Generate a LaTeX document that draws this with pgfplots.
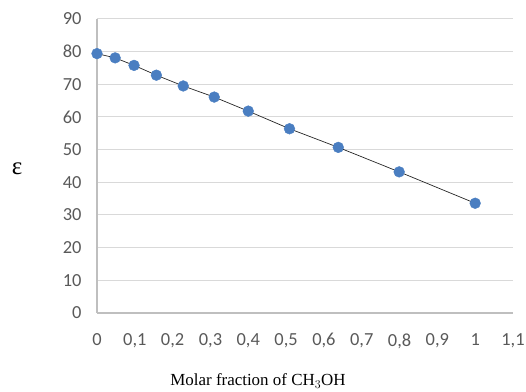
\documentclass[border=0pt]{standalone}
\usepackage{fontspec}
\setmainfont{Liberation Serif}
\newfontfamily\calibri{Carlito}
\usepackage{pgfplots}
\pgfplotsset{compat=1.18}
\definecolor{tickgray}{RGB}{89,89,89}
\definecolor{gridgray}{RGB}{217,217,217}
\definecolor{axgray}{RGB}{191,191,191}
\definecolor{mblue}{RGB}{74,126,193}
\begin{document}
\begin{tikzpicture}
\begin{axis}[
  scale only axis,
  width=416bp, height=294bp,
  xmin=0, xmax=1.1, ymin=0, ymax=90,
  xtick={0,0.1,...,1.1},
  ytick={0,10,...,90},
  xticklabels={0,{0,1},{0,2},{0,3},{0,4},{0,5},{0,6},{0,7},{0,8},{0,9},1,{1,1}},
  axis lines*=left,
  axis line style={axgray, line width=1.4bp},
  ymajorgrids,
  grid style={gridgray, line width=1bp},
  tick style={draw=none},
  major tick length=0pt,
  ticklabel style={font=\calibri\fontsize{18.5}{20}\selectfont, text=tickgray},
  /pgf/number format/assume math mode=true,
  xticklabel style={yshift=-17bp},
  yticklabel style={xshift=-12bp},
  xlabel={Molar fraction of CH$_3$OH},
  xlabel style={font=\fontsize{17}{19}\selectfont, at={(axis description cs:0.387,-0.232)}, anchor=center},
  ylabel={ε},
  ylabel style={font=\fontsize{25}{27}\selectfont, rotate=-90, at={(axis description cs:-0.192,0.49)}, anchor=center},
  clip=false,
]
\addplot[black!85, line width=0.7bp, mark=*, mark size=5.4bp,
  mark options={draw=mblue, fill=mblue, line width=0.4bp}] coordinates {
  (0,79.4) (0.048,78.1) (0.098,75.8) (0.157,72.8) (0.228,69.5)
  (0.310,66.1) (0.400,61.8) (0.509,56.4) (0.638,50.7) (0.799,43.2) (1.0,33.6)
};
\end{axis}
\pgfresetboundingbox
\path (current axis.south west) ++(-97bp,-79bp) coordinate (bbA);
\path (current axis.north east) ++(13bp,19bp) coordinate (bbB);
\useasboundingbox (bbA) rectangle (bbB);
\end{tikzpicture}
\end{document}
